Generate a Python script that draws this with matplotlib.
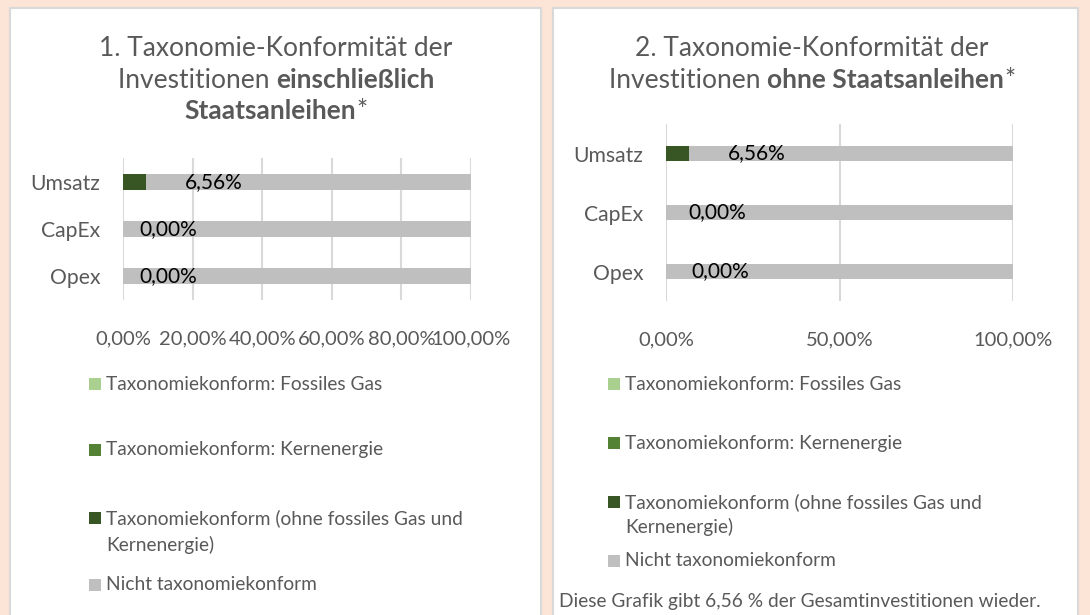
import matplotlib
matplotlib.use("Agg")
import matplotlib.pyplot as plt
from matplotlib.patches import Rectangle
import numpy as np

plt.rcParams["font.family"] = ["Lato", "DejaVu Sans"]

# data
categories = ["Umsatz", "CapEx", "Opex"]
series_names = [
    "Taxonomiekonform: Fossiles Gas",
    "Taxonomiekonform: Kernenergie",
    "Taxonomiekonform (ohne fossiles Gas und\nKernenergie)",
    "Nicht taxonomiekonform",
]
fossil_gas = [0.0, 0.0, 0.0]
nuclear = [0.0, 0.0, 0.0]
aligned_other = [6.56, 0.0, 0.0]
not_aligned = [93.44, 100.0, 100.0]
label_texts = ["6,56%", "0,00%", "0,00%"]
ticks_1 = [0, 20, 40, 60, 80, 100]
ticks_2 = [0, 50, 100]
footer = "Diese Grafik gibt 6,56 % der Gesamtinvestitionen wieder."

colors = ["#A9D08E", "#548235", "#375623", "#BFBFBF"]
text_grey = "#595959"
bg = "#FCE4D6"

W, H = 1090, 615
fig = plt.figure(figsize=(W / 100, H / 100), dpi=100)
fig.patch.set_facecolor(bg)


def px(x, y):
    return x / W, 1 - y / H


# white panels
for x0, x1 in [(10, 541), (553, 1078)]:
    fig.patches.append(Rectangle(px(x0, 640), (x1 - x0) / W, (640 - 8) / H,
                                 transform=fig.transFigure, facecolor="white",
                                 edgecolor="#D9D9D9", linewidth=1.5, zorder=-5))


def rich_line(xc, y, parts, size=19):
    r = fig.canvas.get_renderer()
    texts = []
    for s, w in parts:
        texts.append(fig.text(0, 1 - y / H, s, fontsize=size, fontweight=w,
                              color=text_grey, va="baseline", ha="left"))
    widths = [t.get_window_extent(r).width for t in texts]
    x = xc - sum(widths) / 2
    for t, w in zip(texts, widths):
        t.set_x(x / W)
        x += w


def bar_panel(rect, ticks, bar_h, offsets):
    ax = fig.add_axes(rect)
    y = np.arange(len(categories))[::-1]
    left = np.zeros(len(categories))
    for vals, c in zip([fossil_gas, nuclear, aligned_other, not_aligned], colors):
        ax.barh(y, vals, left=left, height=bar_h, color=c, zorder=2)
        left += np.array(vals)
    ax.set_xlim(0, 100)
    ax.set_ylim(-0.5, 2.5)
    ax.set_xticks(ticks)
    ax.set_xticklabels([f"{t:.2f}%".replace(".", ",") for t in ticks])
    ax.set_yticks(y)
    ax.set_yticklabels(categories)
    ax.tick_params(length=0, labelsize=14.5, labelcolor=text_grey)
    ax.tick_params(axis="x", pad=22)
    ax.tick_params(axis="y", pad=16.5, labelsize=15.2)
    for s in ax.spines.values():
        s.set_visible(False)
    ax.grid(axis="x", color="#D9D9D9", linewidth=1.5, zorder=0)
    ax.set_axisbelow(True)
    ax.set_facecolor("none")
    for yi, v, lab, off in zip(y, aligned_other, label_texts, offsets):
        ax.annotate(lab, xy=(v, yi), xytext=(off, 0), textcoords="offset pixels",
                    ha="left", va="center", fontsize=15, color="black", zorder=3)
    return ax


def legend_block(x_box, rows, line_gap):
    # rows: y centre (px) of the first text line of every entry
    for name, c, yc in zip(series_names, colors, rows):
        fig.patches.append(Rectangle(px(x_box, yc + 6), 12 / W, 12 / H,
                                     transform=fig.transFigure, facecolor=c,
                                     edgecolor="none"))
        for k, line in enumerate(name.split("\n")):
            fig.text(*px(x_box + 17, yc + k * line_gap), line, fontsize=13.8,
                     color=text_grey, va="center", ha="left")


# panel 1
rich_line(276, 56, [("1. Taxonomie-Konformität der", "normal")])
rich_line(276, 88, [("Investitionen ", "normal"), ("einschließlich", "bold")])
rich_line(276, 119, [("Staatsanleihen", "bold"), ("*", "normal")])
x0, y0 = px(123, 300)
bar_panel([x0, y0, (471 - 123) / W, 142 / H], ticks_1, 0.34, [39, 16, 16])
legend_block(89, [384, 450, 518, 585], 27)

# panel 2
rich_line(812, 56, [("2. Taxonomie-Konformität der", "normal")])
rich_line(812, 88, [("Investitionen ", "normal"), ("ohne Staatsanleihen", "bold"), ("*", "normal")])
x0, y0 = px(666, 301)
bar_panel([x0, y0, (1013 - 666) / W, 177 / H], ticks_2, 0.25, [39, 22, 25])
legend_block(608, [384, 443, 502, 561], 25)

fig.text(*px(559, 601), footer, fontsize=13.8, color=text_grey, va="center", ha="left")

fig.savefig("out.png", dpi=100, facecolor=bg)
